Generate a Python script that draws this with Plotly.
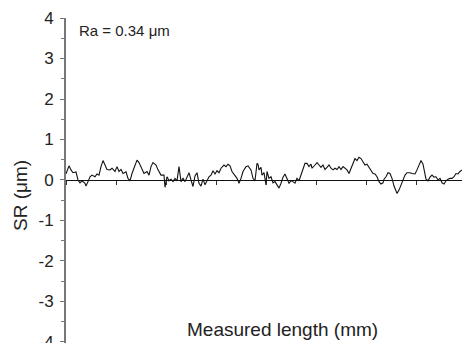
import plotly.graph_objects as go

# Surface roughness profile (mm vs um)
length_mm = [0.00, 0.02, 0.06, 0.10, 0.14, 0.20, 0.24, 0.28, 0.32, 0.38, 0.40, 0.44, 0.48, 0.52, 0.58, 0.62, 0.66,
             0.70, 0.74, 0.78, 0.82, 0.88, 0.92, 0.98, 1.02, 1.06, 1.10, 1.14, 1.20, 1.24, 1.28, 1.32, 1.38,
             1.42, 1.46, 1.50, 1.56, 1.62, 1.66, 1.70, 1.74, 1.80, 1.84, 1.90, 1.96, 1.98, 2.02, 2.06, 2.10,
             2.14, 2.18, 2.22, 2.24, 2.26, 2.30, 2.34, 2.38, 2.42, 2.46, 2.50, 2.54, 2.58, 2.62, 2.66, 2.70,
             2.74, 2.78, 2.82, 2.86, 2.90, 2.94, 2.98, 3.02, 3.06, 3.10, 3.16, 3.20, 3.24, 3.28, 3.32, 3.38,
             3.42, 3.46, 3.50, 3.54, 3.60, 3.64, 3.70, 3.74, 3.78, 3.82, 3.84, 3.86, 3.90, 3.92, 3.96, 4.00,
             4.02, 4.06, 4.10, 4.14, 4.18, 4.22, 4.26, 4.30, 4.34, 4.38, 4.42, 4.46, 4.50, 4.54, 4.58, 4.62,
             4.66, 4.70, 4.74, 4.78, 4.82, 4.86, 4.90, 4.92, 4.98, 5.02, 5.06, 5.10, 5.14, 5.18, 5.22, 5.26,
             5.30, 5.34, 5.38, 5.42, 5.46, 5.50, 5.54, 5.58, 5.62, 5.66, 5.70, 5.74, 5.78, 5.82, 5.86, 5.90,
             5.94, 5.98, 6.02, 6.06, 6.10, 6.14, 6.18, 6.22, 6.26, 6.30, 6.34, 6.36, 6.40, 6.44, 6.48, 6.52,
             6.56, 6.60, 6.62, 6.66, 6.70, 6.74, 6.78, 6.82, 6.88, 6.92, 6.98, 7.02, 7.06, 7.10, 7.14, 7.16,
             7.20, 7.24, 7.28, 7.32, 7.36, 7.40, 7.44, 7.48, 7.52, 7.56, 7.60, 7.64, 7.68, 7.72, 7.76, 7.80,
             7.84, 7.88, 7.92]
sr_um = [0.15, 0.21, 0.35, 0.25, 0.18, 0.20, 0.00, -0.07, -0.02, -0.08, -0.15, -0.04, 0.08, 0.12, 0.08, 0.15, 0.12,
         0.33, 0.48, 0.37, 0.26, 0.25, 0.29, 0.21, 0.33, 0.21, 0.26, 0.16, 0.20, 0.04, -0.02, 0.16, 0.37,
         0.49, 0.43, 0.33, 0.16, 0.21, 0.12, 0.33, 0.43, 0.37, 0.25, 0.12, 0.12, -0.18, 0.08, -0.02, 0.02,
         -0.04, 0.04, -0.02, 0.12, 0.33, -0.04, 0.04, -0.04, 0.08, 0.18, 0.00, -0.16, 0.10, 0.18, -0.08, -0.15,
         0.02, -0.12, -0.02, 0.08, 0.12, 0.23, 0.15, 0.23, 0.18, 0.29, 0.37, 0.33, 0.39, 0.35, 0.21, 0.10,
         0.04, -0.08, 0.04, 0.21, 0.33, 0.35, 0.25, 0.04, -0.02, 0.41, 0.39, 0.25, 0.31, 0.12, 0.18, -0.12,
         0.21, 0.04, 0.08, -0.07, -0.04, -0.12, -0.20, -0.08, 0.07, 0.15, 0.04, -0.08, -0.02, -0.04, -0.08, 0.04,
         -0.02, 0.12, 0.29, 0.41, 0.41, 0.33, 0.39, 0.29, 0.37, 0.43, 0.37, 0.31, 0.37, 0.26, 0.31, 0.37,
         0.29, 0.25, 0.29, 0.26, 0.33, 0.26, 0.33, 0.29, 0.25, 0.16, 0.29, 0.45, 0.53, 0.48, 0.56, 0.53,
         0.43, 0.37, 0.39, 0.31, 0.23, 0.16, 0.15, 0.08, -0.04, -0.10, -0.07, 0.02, 0.08, 0.18, 0.16, 0.04,
         -0.15, -0.29, -0.33, -0.25, -0.12, 0.00, 0.12, 0.18, 0.18, 0.16, 0.15, 0.25, 0.39, 0.48, 0.39, 0.23,
         0.02, -0.02, 0.07, 0.12, 0.07, 0.08, 0.00, 0.04, -0.07, -0.10, -0.02, 0.02, 0.04, 0.04, 0.08, 0.16,
         0.15, 0.21, 0.25]

y_ticks = [-4, -3, -2, -1, 0, 1, 2, 3, 4]
y_tick_text = ["-4", "-3", "-2", "-1", "0", "1", "2", "3", "4"]
ra_label = "Ra = 0.34 \u03bcm"
x_title = "Measured length (mm)"
y_title = "SR (\u03bcm)"

FONT = "Liberation Sans, Arial, sans-serif"

W, H = 462, 343
ML, MT = 66, 18
PW, PH = W - ML, H - MT

fig = go.Figure()
fig.add_trace(go.Scatter(x=length_mm, y=sr_um, mode="lines",
                         line=dict(color="#111111", width=1.1), showlegend=False,
                         hoverinfo="skip"))

y_lo, y_hi = -4.025, 4.0


def px_x(px):
    return (px - ML) / PW


def px_y(py):
    return (H - py) / PH


fig.update_layout(
    width=W, height=H,
    margin=dict(l=ML, r=0, t=MT, b=0, autoexpand=False),
    paper_bgcolor="white", plot_bgcolor="white",
    font=dict(family=FONT, color="#222222"),
    xaxis=dict(range=[0, 7.92], dtick=1, tick0=0, showgrid=False, zeroline=False,
               showline=True, linecolor="#111111", linewidth=1,
               ticks="outside", ticklen=4, tickcolor="#333333", tickwidth=1,
               showticklabels=False, anchor="free", automargin=False,
               position=(0 - y_lo) / (y_hi - y_lo)),
    yaxis=dict(range=[y_lo, y_hi], tickvals=y_ticks, ticktext=y_tick_text,
               showgrid=False, zeroline=False, automargin=False,
               showline=True, linecolor="#777777", linewidth=2,
               ticks="outside", ticklen=4, tickcolor="#777777", tickwidth=1,
               tickfont=dict(size=17, color="#222222", family=FONT),
               ticklabelstandoff=3, ticklabeloverflow="allow",
               minor=dict(dtick=0.5, tick0=0, ticks="outside", ticklen=3,
                          tickcolor="#777777", tickwidth=1, showgrid=False)),
    annotations=[
        dict(text=ra_label, xref="paper", yref="paper", x=px_x(77), y=px_y(30),
             xanchor="left", yanchor="middle", showarrow=False,
             font=dict(size=15, color="#222222", family=FONT)),
        dict(text=x_title, xref="paper", yref="paper", x=px_x(282), y=px_y(329),
             xanchor="center", yanchor="middle", showarrow=False,
             font=dict(size=19, color="#222222", family=FONT)),
        dict(text=y_title, textangle=-90, xref="paper", yref="paper",
             x=px_x(20), y=px_y(196),
             xanchor="center", yanchor="middle", showarrow=False,
             font=dict(size=19, color="#222222", family=FONT)),
    ],
)

fig.write_html(
    "out.html",
    config={"displayModeBar": False},
    post_script="document.body.style.margin='0';document.body.style.overflow='hidden';",
)
